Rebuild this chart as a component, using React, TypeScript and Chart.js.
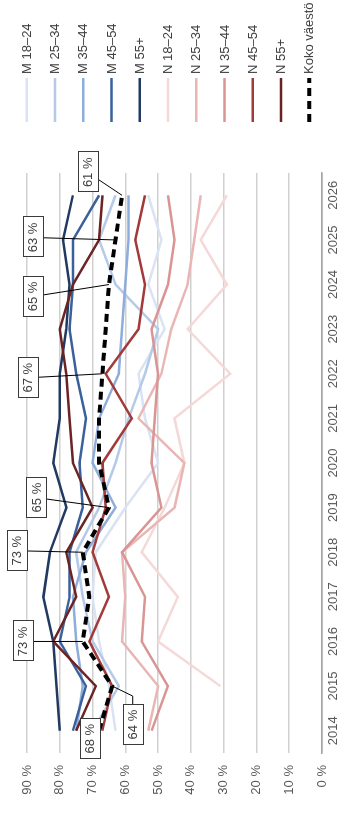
import { useEffect, useRef } from "react";
import { Chart, registerables } from "chart.js";

Chart.register(...registerables);

// Years on the category axis
const years = ["2014", "2015", "2016", "2017", "2018", "2019", "2020", "2021", "2022", "2023", "2024", "2025", "2026"];

// Shares per group, percent
const m1824 = [63, 65, 68, 70, 69, 60, 50, 54, 56, 48, 53, 49, 53];
const m2534 = [70, 62, 70, 73, 75, 68, 63, 59, 54, 50, 63, 68, 63];
const m3544 = [75, 73, 75, 76, 72, 63, 70, 68, 62, 61, 60, 59, 59];
const m4554 = [76, 72, 80, 77, 77, 73, 74, 72, 75, 77, 76, 76, 68];
const m55 = [80, 81, 82, 85, 83, 78, 82, 80, 80, 78, 77, 79, 76];
const n1824 = [null, 31, 50, 44, 55, 48, 42, 45, 28, 41, 29, 37, 29];
const n2534 = [53, 50, 61, 60, 61, 45, 42, 56, 49, 46, 41, 39, 37];
const n3544 = [52, 47, 55, 54, 61, 49, 52, 51, 50, 52, 47, 45, 47];
const n4554 = [67, 64, 71, 65, 70, 66, 67, 58, 66, 56, 54, 57, 54];
const n55 = [75, 69, 82, 75, 78, 70, 76, 77, 78, 80, 76, 68, 67];
const total = [68, 64, 73, 71, 73, 65, 68, 68, 67, 66, 65, 63, 61];

const seriesNames = [
  "M 18–24", "M 25–34", "M 35–44", "M 45–54", "M 55+",
  "N 18–24", "N 25–34", "N 35–44", "N 45–54", "N 55+", "Koko väestö",
];
const seriesValues = [m1824, m2534, m3544, m4554, m55, n1824, n2534, n3544, n4554, n55, total];
const seriesColors = [
  "#d9e3f3", "#b5cae8", "#8eaddb", "#3a619b", "#223a62",
  "#f5d9d8", "#e9b6b5", "#d99594", "#a23a3a", "#6b2424", "#000000",
];

// Years of the total series that carry a value callout
const calloutYears = ["2014", "2015", "2016", "2018", "2019", "2022", "2024", "2025", "2026"];

// Callout box placement relative to its point (px, chart coordinates)
const calloutOffsets: Array<[number, number]> = [
  [-8, -9], [-38.5, 20.5], [0, -59.5], [1.5, -66], [10, -72.5],
  [-4, -74], [-12, -76], [2.5, -83], [23, -34.5],
];

const FONT = "'Liberation Sans', Arial, sans-serif";
const TEXT = "#404040";
const AXIS_TEXT = "#595959";

const calloutPlugin = {
  id: "totalCallouts",
  afterDatasetsDraw(chart: any) {
    const ctx = chart.ctx as CanvasRenderingContext2D;
    const totalIndex = seriesNames.length - 1;
    const meta = chart.getDatasetMeta(totalIndex);
    ctx.save();
    ctx.font = `13px ${FONT}`;
    calloutYears.forEach((yr, i) => {
      const idx = years.indexOf(yr);
      const pt = meta.data[idx];
      if (!pt) return;
      const [dx, dy] = calloutOffsets[i];
      const bx = pt.x + dx;
      const by = pt.y + dy;
      const text = `${total[idx]} %`;
      const tw = ctx.measureText(text).width;
      const w = Math.round(tw + 10);
      const h = 20;
      // leader line
      ctx.strokeStyle = "#000000";
      ctx.lineWidth = 1;
      ctx.setLineDash([]);
      ctx.beginPath();
      ctx.moveTo(pt.x, pt.y);
      if (yr === "2015") ctx.lineTo(pt.x - 10, by);
      ctx.lineTo(bx, by);
      ctx.stroke();
      // box
      const left = Math.round(bx - w / 2) + 0.5;
      const top = Math.round(by - h / 2) + 0.5;
      ctx.fillStyle = "#ffffff";
      ctx.fillRect(left, top, w, h);
      ctx.strokeStyle = "#3a3a3a";
      ctx.strokeRect(left, top, w, h);
      ctx.fillStyle = TEXT;
      ctx.textAlign = "center";
      ctx.textBaseline = "middle";
      ctx.fillText(text, bx, by + 0.5);
    });
    ctx.restore();
  },
};

const legendPlugin = {
  id: "sideLegend",
  afterDraw(chart: any) {
    const ctx = chart.ctx as CanvasRenderingContext2D;
    ctx.save();
    ctx.font = `13px ${FONT}`;
    ctx.textAlign = "left";
    ctx.textBaseline = "middle";
    seriesNames.forEach((name, i) => {
      const y = 26.7 + i * 28.25;
      const isTotal = i === seriesNames.length - 1;
      ctx.strokeStyle = seriesColors[i];
      ctx.lineWidth = isTotal ? 4 : 2.5;
      ctx.setLineDash(isTotal ? [8, 5] : []);
      ctx.lineCap = "butt";
      ctx.beginPath();
      ctx.moveTo(703, y);
      ctx.lineTo(747, y);
      ctx.stroke();
      ctx.fillStyle = TEXT;
      ctx.fillText(name, 751, y + 0.5);
    });
    ctx.restore();
  },
};

export default function App() {
  const ref = useRef<HTMLCanvasElement>(null);

  useEffect(() => {
    const canvas = ref.current;
    if (!canvas) return;
    const last = seriesNames.length - 1;
    const datasets = seriesNames.map((name, i) => ({
      label: name,
      data: seriesValues[i],
      borderColor: seriesColors[i],
      backgroundColor: seriesColors[i],
      borderWidth: i === last ? 4 : 2.5,
      borderDash: i === last ? [8, 5] : [],
      pointRadius: 0,
      fill: false,
      tension: 0,
      order: i === last ? 0 : last - i,
    }));

    const chart = new Chart(canvas, {
      type: "line",
      data: { labels: years, datasets },
      options: {
        responsive: false,
        animation: false,
        devicePixelRatio: 1,
        layout: { padding: { top: 27, right: 173, left: 0, bottom: 0 } },
        plugins: {
          legend: { display: false },
          tooltip: { enabled: false },
        },
        scales: {
          x: {
            offset: true,
            grid: { display: false, drawTicks: false },
            border: { display: true, color: "#a6a6a6", width: 1.5 },
            ticks: { padding: 4, color: AXIS_TEXT, font: { family: FONT, size: 13 }, maxRotation: 0 },
            afterFit: (s: any) => {
              s.height = 23;
            },
          },
          y: {
            min: 0,
            max: 90,
            ticks: {
              stepSize: 10,
              padding: 12,
              color: AXIS_TEXT,
              font: { family: FONT, size: 13 },
              callback: (v: any) => `${v} %`,
            },
            grid: {
              drawTicks: false,
              lineWidth: 1.5,
              color: (c: any) => (c.tick && c.tick.value === 0 ? "#a6a6a6" : "#d0d0d0"),
            },
            border: { display: false },
            afterFit: (s: any) => {
              s.width = 72;
            },
          },
        },
      },
      plugins: [calloutPlugin, legendPlugin],
    } as any);

    return () => chart.destroy();
  }, []);

  return (
    <div
      style={{
        position: "fixed",
        left: 0,
        top: 0,
        width: 345,
        height: 825,
        overflow: "hidden",
        background: "#ffffff",
      }}
    >
      <canvas
        ref={ref}
        width={825}
        height={345}
        style={{
          position: "absolute",
          left: 0,
          top: 0,
          width: 825,
          height: 345,
          transformOrigin: "0 0",
          transform: "translateY(825px) rotate(-90deg)",
        }}
      />
    </div>
  );
}
